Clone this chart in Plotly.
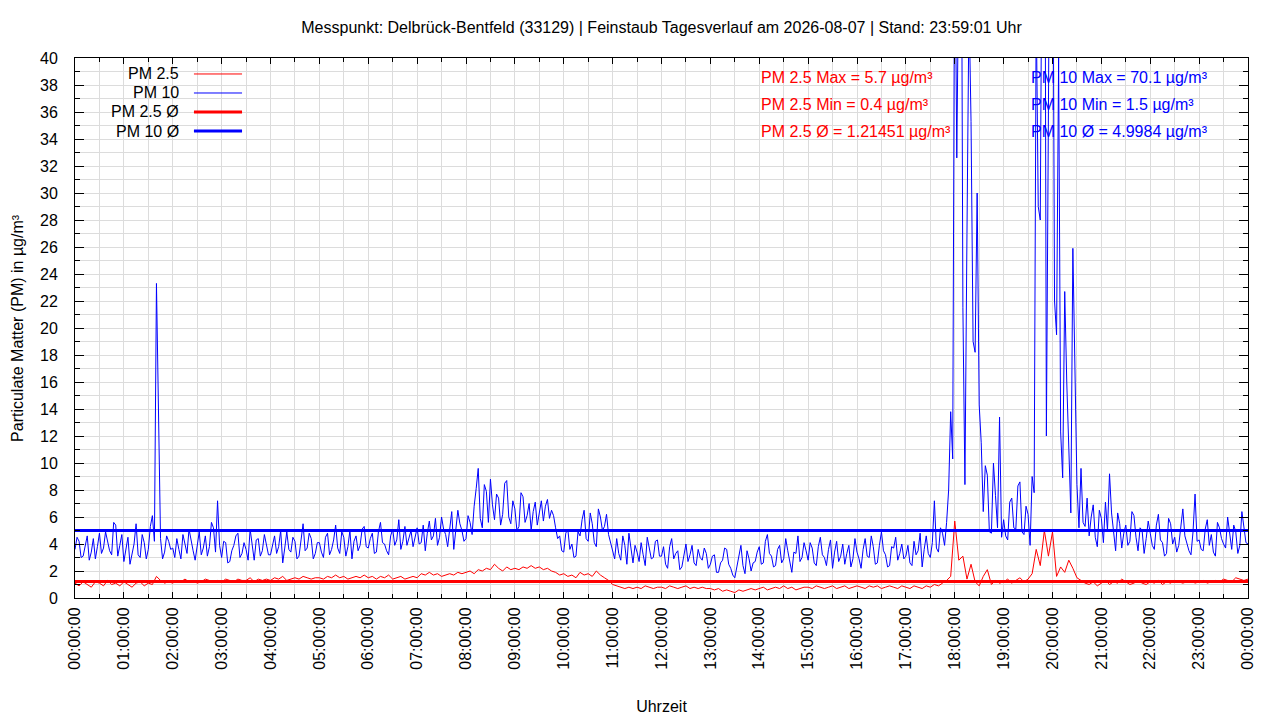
import pandas as pd
import plotly.graph_objects as go

# PM 10 im 2,5-Minuten-Raster (24 Werte pro Stunde), 00:00 bis 24:00
pm10 = [
    3.6, 4.5, 4.2, 3.0, 3.1, 3.9, 4.6, 2.8, 3.4, 4.4, 2.9, 3.8, 4.8, 3.3, 3.7, 4.9, 4.3, 3.5, 3.2, 5.6, 5.4, 3.1, 3.9, 4.7,
    2.7, 3.8, 4.5, 2.5, 3.3, 4.0, 5.5, 3.2, 3.0, 4.7, 4.1, 2.9, 3.6, 5.3, 6.1, 4.2, 23.3, 14.0, 4.4, 2.9, 3.4, 4.6, 4.2, 3.6,
    3.7, 3.0, 4.4, 3.6, 2.9, 4.7, 3.9, 3.3, 5.1, 4.2, 3.5, 2.8, 4.0, 4.9, 3.2, 3.7, 4.6, 3.1, 3.8, 5.6, 5.2, 3.4, 7.2, 3.9,
    3.0, 4.2, 4.1, 2.6, 2.7, 3.5, 3.9, 4.6, 4.8, 3.0, 3.3, 4.1, 3.6, 2.8, 5.1, 3.9, 2.8, 4.3, 4.4, 3.1, 3.5, 4.7, 4.0, 3.2,
    3.2, 4.0, 4.6, 3.3, 3.8, 5.0, 2.6, 3.7, 4.9, 3.6, 3.4, 4.5, 4.2, 2.9, 3.1, 4.3, 5.5, 3.5, 3.7, 4.8, 4.4, 2.9, 3.3, 4.1,
    4.1, 3.4, 3.0, 4.5, 4.8, 3.2, 3.6, 4.3, 5.4, 3.7, 3.3, 4.9, 4.5, 3.1, 3.8, 5.0, 2.9, 4.2, 4.6, 3.5, 3.9, 5.1, 5.3, 3.8,
    3.7, 4.4, 4.8, 3.3, 3.4, 4.9, 5.6, 4.1, 4.0, 3.5, 3.2, 4.6, 5.1, 3.9, 4.3, 5.8, 3.6, 4.2, 5.3, 3.9, 4.4, 5.0, 3.8, 4.6,
    5.2, 4.0, 4.1, 5.4, 3.5, 4.8, 5.7, 4.3, 4.6, 5.9, 3.9, 4.5, 6.0, 5.1, 4.7, 3.8, 5.3, 6.4, 3.6, 4.9, 6.5, 5.5, 5.0, 4.2,
    4.4, 6.1, 5.6, 4.7, 6.8, 8.1, 9.6, 5.9, 5.2, 8.4, 7.9, 5.6, 8.8, 6.9, 5.8, 7.7, 7.4, 5.4, 6.2, 8.5, 8.7, 6.0, 5.5, 7.2,
    6.6, 5.0, 5.3, 7.8, 7.5, 5.6, 6.1, 7.0, 5.0, 6.4, 7.1, 5.4, 6.3, 7.2, 5.7, 6.8, 7.3, 5.9, 6.5, 6.1, 5.2, 4.4, 4.6, 3.5,
    3.4, 4.8, 5.1, 3.6, 4.0, 3.0, 3.1, 4.9, 4.6, 5.8, 6.5, 4.4, 4.2, 6.3, 5.5, 4.1, 3.8, 6.6, 6.0, 5.0, 5.3, 6.2, 4.7, 4.1,
    3.6, 2.9, 4.4, 3.3, 2.8, 4.6, 3.9, 2.5, 4.8, 3.5, 2.6, 3.9, 3.4, 2.7, 4.1, 3.2, 2.4, 4.5, 3.7, 2.9, 3.0, 4.2, 4.3, 3.1,
    3.1, 3.8, 2.5, 2.2, 3.8, 4.4, 2.9, 3.3, 3.5, 2.1, 2.3, 3.2, 4.0, 2.7, 3.2, 3.9, 2.6, 2.4, 3.6, 3.0, 2.8, 3.7, 3.3, 2.2,
    2.5, 3.1, 3.2, 1.9, 1.9, 2.6, 2.8, 3.7, 3.6, 2.5, 2.2, 1.7, 1.5, 2.3, 3.0, 3.9, 2.4, 1.8, 3.5, 2.9, 2.0, 2.6, 2.7, 3.4,
    3.8, 2.5, 2.6, 4.2, 4.7, 3.3, 3.1, 2.3, 2.4, 3.6, 3.9, 2.6, 2.9, 4.4, 3.5, 2.8, 1.9, 3.4, 3.3, 4.6, 2.7, 3.0, 4.1, 3.5,
    2.8, 4.1, 3.7, 2.6, 2.4, 3.8, 4.5, 3.2, 3.0, 2.4, 3.6, 4.3, 2.2, 3.4, 4.2, 2.7, 3.1, 4.0, 2.5, 3.3, 3.9, 2.3, 2.9, 4.4,
    3.4, 2.9, 2.2, 3.6, 4.4, 3.1, 3.0, 4.6, 3.8, 2.5, 2.6, 3.9, 4.9, 3.5, 3.2, 2.3, 2.4, 3.8, 3.7, 4.5, 2.8, 3.3, 4.0, 2.9,
    3.1, 3.9, 2.6, 2.4, 4.2, 3.2, 3.5, 4.8, 2.3, 3.6, 4.6, 3.3, 3.0, 4.1, 7.2, 3.7, 3.4, 5.2, 4.8, 3.9, 5.6, 8.0, 13.8, 10.3,
    52.0, 32.6, 41.0, 63.0, 21.5, 8.4, 27.0, 44.0, 35.3, 19.0, 18.2, 30.0, 14.3, 11.5, 6.4, 9.8, 9.1, 4.9, 4.8, 10.0, 7.6, 5.2, 13.4, 4.5,
    5.8, 4.6, 4.3, 7.1, 7.4, 5.2, 5.1, 8.3, 8.6, 4.9, 4.7, 6.8, 6.2, 3.9, 9.0, 7.8, 44.0, 29.0, 28.0, 55.0, 70.1, 12.0, 36.0, 62.0,
    58.0, 22.0, 19.5, 40.0, 12.3, 8.9, 22.7, 16.0, 11.0, 6.3, 25.9, 16.0, 8.4, 5.2, 9.6, 5.6, 5.3, 7.4, 4.6, 6.0, 6.9, 4.5, 3.8, 6.5,
    5.9, 4.1, 7.1, 5.0, 9.2, 6.3, 4.6, 3.5, 6.3, 5.5, 3.7, 4.8, 5.4, 3.9, 4.2, 6.4, 6.1, 4.5, 3.5, 5.2, 5.0, 3.3, 4.4, 5.7,
    4.8, 3.9, 3.6, 5.4, 6.2, 4.3, 4.1, 3.1, 3.3, 5.9, 5.5, 4.0, 4.5, 3.4, 3.9, 5.3, 6.6, 4.6, 4.0, 3.5, 3.2, 4.9, 7.7, 4.2,
    4.3, 3.6, 3.5, 5.1, 5.8, 3.9, 4.7, 3.4, 3.1, 5.6, 5.2, 4.4, 4.0, 3.7, 6.0, 4.6, 3.6, 5.4, 4.9, 3.3, 3.9, 6.4, 5.3, 4.1,
    4.0,
]

# PM 2.5 im 5-Minuten-Raster (12 Werte pro Stunde), 00:00 bis 24:00
pm25 = [
    1.1, 0.9, 1.2, 1.0, 0.8, 1.2, 1.1, 0.9, 1.3, 1.0, 1.1, 0.9,
    1.2, 1.0, 0.8, 1.1, 1.2, 0.9, 1.1, 1.0, 1.6, 1.3, 1.1, 1.2,
    1.1, 1.3, 1.2, 1.4, 1.2, 1.3, 1.1, 1.2, 1.4, 1.3, 1.2, 1.3,
    1.2, 1.4, 1.3, 1.2, 1.4, 1.3, 1.3, 1.5, 1.2, 1.4, 1.3, 1.4,
    1.3, 1.5, 1.4, 1.6, 1.3, 1.4, 1.5, 1.4, 1.6, 1.5, 1.4, 1.5,
    1.5, 1.4, 1.6, 1.5, 1.7, 1.5, 1.6, 1.4, 1.5, 1.6, 1.5, 1.7,
    1.5, 1.6, 1.4, 1.6, 1.5, 1.7, 1.4, 1.5, 1.6, 1.4, 1.5, 1.6,
    1.5, 1.8, 1.7, 1.9, 1.7, 1.8, 1.6, 1.7, 1.8, 1.7, 1.9, 1.8,
    1.9, 2.0, 1.8, 2.1, 2.0, 2.2, 2.1, 2.5, 2.2, 2.0, 2.3, 2.1,
    2.2, 2.1, 2.3, 2.2, 2.4, 2.2, 2.3, 2.1, 2.2, 2.0, 1.9, 1.7,
    1.8, 1.6, 1.7, 1.5, 1.9, 1.7, 1.8, 1.6, 2.0, 1.7, 1.5, 1.3,
    1.0, 0.9, 0.8, 0.7, 0.8, 0.7, 0.8, 0.7, 0.9, 0.8, 0.7, 0.8,
    0.8, 0.7, 0.9, 0.8, 0.7, 0.8, 0.9, 0.7, 0.8, 0.7, 0.8, 0.7,
    0.7, 0.6, 0.7, 0.5, 0.6, 0.5, 0.4, 0.6, 0.5, 0.6, 0.7, 0.6,
    0.7, 0.8, 0.6, 0.7, 0.8, 0.7, 0.9, 0.7, 0.8, 0.6, 0.7, 0.8,
    0.8, 0.7, 0.9, 0.8, 0.7, 0.8, 0.9, 0.7, 0.8, 0.9, 0.7, 0.8,
    0.9, 0.8, 0.7, 0.9, 0.8, 0.9, 0.7, 0.8, 0.9, 0.8, 0.7, 0.9,
    0.8, 0.7, 0.9, 0.8, 0.7, 0.9, 0.8, 1.0, 0.9, 1.1, 1.3, 1.6,
    5.7, 2.8, 3.1, 1.4, 2.5, 1.2, 0.9, 1.6, 2.1, 1.0, 1.3, 1.1,
    1.2, 1.4, 1.1, 1.3, 1.5, 1.2, 1.4, 1.8, 3.6, 2.4, 5.0, 3.1,
    4.9, 1.6, 2.3, 1.9, 2.8, 2.2, 1.5, 1.3, 1.1, 1.0, 1.2, 0.9,
    1.1, 1.3, 1.0, 1.2, 1.1, 1.4, 1.2, 1.0, 1.1, 1.3, 1.1, 1.0,
    1.2, 1.1, 1.3, 1.0, 1.2, 1.1, 1.3, 1.2, 1.1, 1.2, 1.3, 1.1,
    1.2, 1.3, 1.1, 1.2, 1.3, 1.2, 1.4, 1.3, 1.2, 1.5, 1.4, 1.3,
    1.4,
]

# Kennwerte laut Beschriftung
pm25_max, pm25_min, pm25_avg = 5.7, 0.4, 1.21451
pm10_max, pm10_min, pm10_avg = 70.1, 1.5, 4.9984

zeit10 = pd.date_range("2026-08-07 00:00", periods=len(pm10), freq="150s")
zeit25 = pd.date_range("2026-08-07 00:00", periods=len(pm25), freq="5min")
tag_start, tag_ende = zeit10[0], zeit10[-1]

RED = "#ff0000"
BLUE = "#0000ff"
FONT = "Liberation Sans, Arial, sans-serif"
FS = 16

fig = go.Figure()
fig.add_trace(go.Scatter(x=zeit25, y=pm25, mode="lines", name="PM 2.5",
                         line=dict(color=RED, width=1), showlegend=False))
fig.add_trace(go.Scatter(x=zeit10, y=pm10, mode="lines", name="PM 10",
                         line=dict(color=BLUE, width=1), showlegend=False))
fig.add_trace(go.Scatter(x=[tag_start, tag_ende], y=[pm25_avg, pm25_avg], mode="lines",
                         name="PM 2.5 Ø", line=dict(color=RED, width=3), showlegend=False))
fig.add_trace(go.Scatter(x=[tag_start, tag_ende], y=[pm10_avg, pm10_avg], mode="lines",
                         name="PM 10 Ø", line=dict(color=BLUE, width=3), showlegend=False))

# Legende im gnuplot-Stil: Text rechtsbündig, Linienmuster rechts daneben
legende = [("PM 2.5", RED, 1), ("PM 10", BLUE, 1), ("PM 2.5 Ø", RED, 3), ("PM 10 Ø", BLUE, 3)]
for i, (txt, col, w) in enumerate(legende):
    yy = 0.9704 - i * 0.0352
    fig.add_annotation(x=0.0904, y=yy, xref="paper", yref="paper", text=txt,
                       showarrow=False, xanchor="right", yanchor="middle",
                       font=dict(size=FS, color="#000000", family=FONT))
    fig.add_shape(type="line", xref="paper", yref="paper", x0=0.1014, x1=0.1424,
                  y0=yy, y1=yy, line=dict(color=col, width=w))

stats_rot = ["PM 2.5 Max = %s µg/m³" % pm25_max,
             "PM 2.5 Min = %s µg/m³" % pm25_min,
             "PM 2.5 Ø = %s µg/m³" % pm25_avg]
stats_blau = ["PM 10 Max = %s µg/m³" % pm10_max,
              "PM 10 Min = %s µg/m³" % pm10_min,
              "PM 10 Ø = %s µg/m³" % pm10_avg]
for i in range(3):
    yy = 0.963 - i * 0.05
    fig.add_annotation(x=0.5831, y=yy, xref="paper", yref="paper", text=stats_rot[i],
                       showarrow=False, xanchor="left", yanchor="middle",
                       font=dict(size=FS, color=RED, family=FONT))
    fig.add_annotation(x=0.8133, y=yy, xref="paper", yref="paper", text=stats_blau[i],
                       showarrow=False, xanchor="left", yanchor="middle",
                       font=dict(size=FS, color=BLUE, family=FONT))

# y-Achsentitel als Annotation, damit er nicht den Rand verschiebt
fig.add_annotation(x=-0.0495, y=0.5, xref="paper", yref="paper",
                   text="Particulate Matter (PM) in µg/m³", textangle=-90,
                   showarrow=False, xanchor="center", yanchor="middle",
                   font=dict(size=FS, color="#000000", family=FONT))

# Seite hat 8px Rand, daher Ränder entsprechend kleiner
fig.update_layout(
    width=1280, height=720,
    margin=dict(l=67, r=40, t=50, b=130),
    paper_bgcolor="white", plot_bgcolor="white",
    font=dict(family=FONT, size=FS, color="#000000"),
    title=dict(text="Messpunkt: Delbrück-Bentfeld (33129) | Feinstaub Tagesverlauf am 2026-08-07 | Stand: 23:59:01 Uhr",
               xref="paper", x=0.5, xanchor="center", y=1 - 19 / 720, yanchor="middle",
               font=dict(size=FS)),
)
fig.update_xaxes(
    range=[tag_start, tag_ende], type="date", automargin=False,
    tickformat="%H:%M:%S", dtick=3600000, tick0=tag_start, tickangle=-90,
    ticks="inside", ticklen=6, tickcolor="#000000", ticklabelstandoff=2,
    showline=True, linecolor="#000000", linewidth=1, mirror="allticks",
    showgrid=True, gridcolor="#dcdcdc", gridwidth=1, zeroline=False,
    minor=dict(dtick=1800000, ticks="inside", ticklen=4, tickcolor="#000000",
               showgrid=True, gridcolor="#dcdcdc", gridwidth=1),
    title=dict(text="Uhrzeit", standoff=32, font=dict(size=FS)),
)
fig.update_yaxes(
    range=[0, 40], dtick=2, tick0=0, automargin=False,
    ticks="inside", ticklen=9, tickcolor="#000000", ticklabelstandoff=13,
    showline=True, linecolor="#000000", linewidth=1, mirror="allticks",
    showgrid=True, gridcolor="#dcdcdc", gridwidth=1, zeroline=False,
    minor=dict(dtick=1, ticks="inside", ticklen=5, tickcolor="#000000",
               showgrid=True, gridcolor="#dcdcdc", gridwidth=1),
)

fig.write_html("out.html")
